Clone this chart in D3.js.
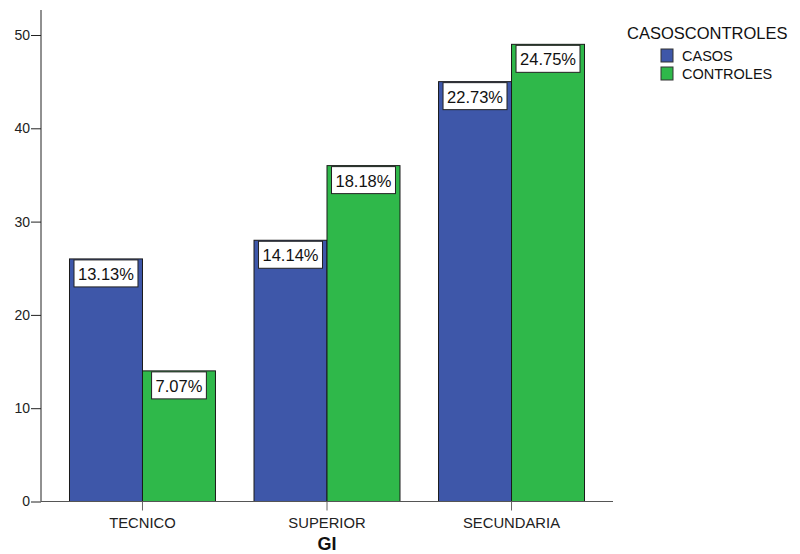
<!DOCTYPE html>
<html>
<head>
<meta charset="utf-8">
<script src="https://cdn.jsdelivr.net/npm/d3@7"></script>
<style>
  body { margin: 0; background: #fff; }
  svg { font-family: "Liberation Sans", Arial, sans-serif; }
</style>
</head>
<body>
<svg id="chart" width="800" height="554"></svg>
<script>
// Recuentos por nivel de instrucción (GI) y grupo
const categories = ["TECNICO", "SUPERIOR", "SECUNDARIA"];
const groups = ["CASOS", "CONTROLES"];
const casos = [26, 28, 45];
const controles = [14, 36, 49];
const pctLabels = {
  CASOS: ["13.13%", "14.14%", "22.73%"],
  CONTROLES: ["7.07%", "18.18%", "24.75%"]
};
const yTicks = [0, 10, 20, 30, 40, 50];
const colors = { CASOS: "#3e57a9", CONTROLES: "#2fb84a" };

const rows = categories.map((c, i) => ({
  cat: c,
  values: [
    { key: "CASOS", value: casos[i], label: pctLabels.CASOS[i] },
    { key: "CONTROLES", value: controles[i], label: pctLabels.CONTROLES[i] }
  ]
}));

const svg = d3.select("#chart");
const mLeft = 41, mRight = 613, mTop = 10, mBottom = 501.5;

const x0 = d3.scaleBand().domain(categories).range([mLeft, mRight])
  .paddingInner(0).paddingOuter(0.05);
const x1 = d3.scaleBand().domain(groups).range([0, x0.bandwidth()])
  .paddingOuter(0.264);
const y = d3.scaleLinear().domain([0, 50]).range([mBottom, 35]);

// Barras
const g = svg.append("g");
const grp = g.selectAll("g.cat").data(rows).join("g")
  .attr("transform", d => `translate(${x0(d.cat)},0)`);

grp.selectAll("rect").data(d => d.values).join("rect")
  .attr("x", d => x1(d.key))
  .attr("y", d => y(d.value))
  .attr("width", x1.bandwidth())
  .attr("height", d => y(0) - y(d.value))
  .attr("fill", d => colors[d.key])
  .attr("stroke", "#1a1a1a")
  .attr("stroke-width", 1);

// Etiquetas de porcentaje en recuadro blanco
const lab = grp.selectAll("g.lab").data(d => d.values).join("g")
  .attr("class", "lab")
  .attr("transform", d => `translate(${x1(d.key) + x1.bandwidth() / 2},${y(d.value) + 1})`);

lab.each(function(d) {
  const sel = d3.select(this);
  const t = sel.append("text")
    .attr("text-anchor", "middle")
    .attr("y", 20)
    .attr("font-size", 16.5)
    .attr("fill", "#111")
    .text(d.label);
  const w = t.node().getComputedTextLength() + 8;
  sel.insert("rect", "text")
    .attr("x", -w / 2)
    .attr("y", 0)
    .attr("width", w)
    .attr("height", 27)
    .attr("fill", "#fff")
    .attr("stroke", "#222")
    .attr("stroke-width", 1);
});

// Eje Y
const yAxis = svg.append("g")
  .attr("transform", `translate(${mLeft},0)`)
  .call(d3.axisLeft(y).tickValues(yTicks).tickSize(10).tickSizeOuter(0).tickPadding(1));
yAxis.select(".domain").remove();
yAxis.selectAll(".tick line").attr("stroke", "#222");
yAxis.selectAll(".tick text").attr("font-size", 14).attr("fill", "#222")
  .attr("font-family", "Liberation Sans, Arial, sans-serif");
svg.append("line").attr("x1", mLeft).attr("x2", mLeft)
  .attr("y1", mTop).attr("y2", mBottom).attr("stroke", "#222");

// Eje X
const xAxis = svg.append("g")
  .attr("transform", `translate(0,${mBottom})`)
  .call(d3.axisBottom(x0).tickSize(0).tickSizeOuter(0).tickPadding(16));
xAxis.select(".domain").remove();
xAxis.selectAll(".tick text").attr("font-size", 14.8).attr("fill", "#222")
  .attr("font-family", "Liberation Sans, Arial, sans-serif");
xAxis.selectAll(".tick").append("line")
  .attr("y1", 0).attr("y2", 9).attr("stroke", "#666");
svg.append("line").attr("x1", mLeft).attr("x2", mRight)
  .attr("y1", mBottom).attr("y2", mBottom).attr("stroke", "#555");

// Título del eje X
svg.append("text")
  .attr("x", x0("SUPERIOR") + x0.bandwidth() / 2)
  .attr("y", 550)
  .attr("text-anchor", "middle")
  .attr("font-size", 18)
  .attr("font-weight", "bold")
  .attr("fill", "#111")
  .text("GI");

// Leyenda
const leg = svg.append("g");
leg.append("text")
  .attr("x", 627).attr("y", 39)
  .attr("font-size", 16.5).attr("fill", "#111")
  .text("CASOSCONTROLES");
const items = leg.selectAll("g.item").data(groups).join("g")
  .attr("transform", (d, i) => `translate(661,${49 + i * 18})`);
items.append("rect")
  .attr("width", 12).attr("height", 13)
  .attr("fill", d => colors[d])
  .attr("stroke", "#333");
items.append("text")
  .attr("x", 21).attr("y", 12)
  .attr("font-size", 14.5).attr("fill", "#111")
  .text(d => d);
</script>
</body>
</html>
